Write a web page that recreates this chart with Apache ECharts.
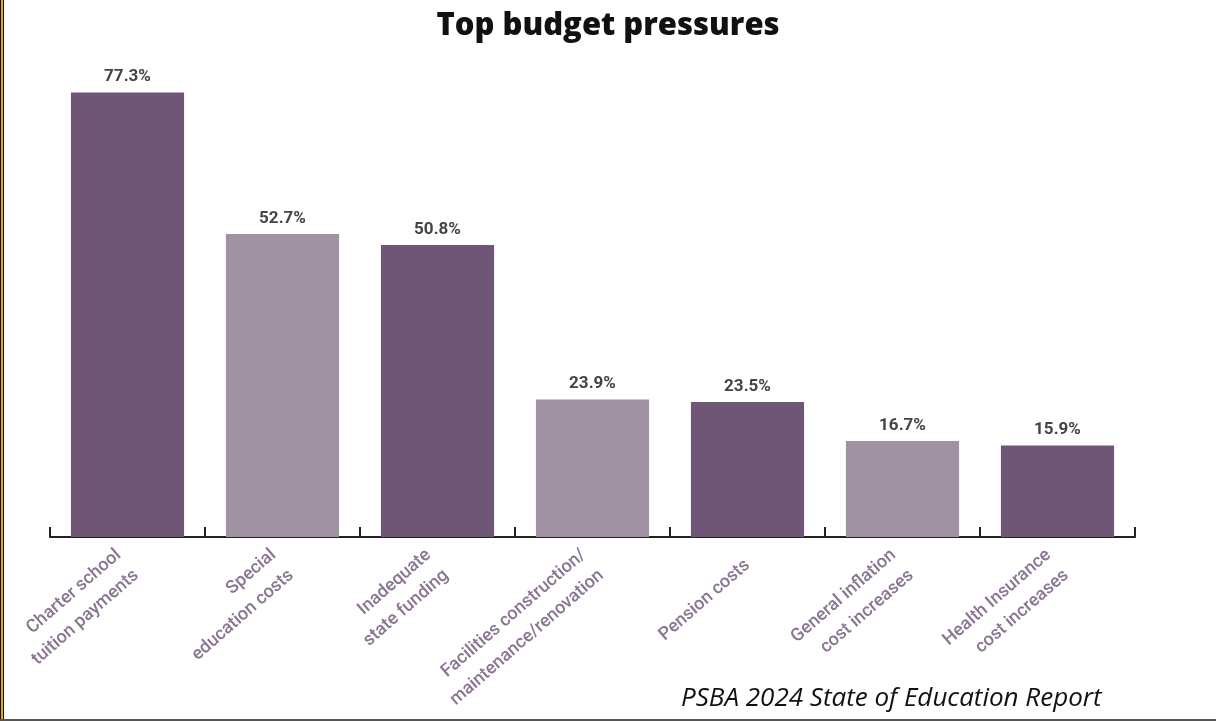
<!DOCTYPE html>
<html>
<head>
<meta charset="utf-8">
<script src="https://cdn.jsdelivr.net/npm/echarts@6/dist/echarts.min.js"></script>
<style>
  html, body { margin: 0; padding: 0; background: #fff; }
  #chart { width: 1216px; height: 721px; }
</style>
</head>
<body>
<div id="chart"></div>
<script>
// categories and values
var categories = [
  'Charter school\ntuition payments',
  'Special\neducation costs',
  'Inadequate\nstate funding',
  'Facilities construction/\nmaintenance/renovation',
  'Pension costs',
  'General inflation\ncost increases',
  'Health Insurance\ncost increases'
];
var values = [77.3, 52.7, 50.8, 23.9, 23.5, 16.7, 15.9];
var barColors = ['#705676', '#a091a3', '#705676', '#a091a3', '#705676', '#a091a3', '#705676'];

var chart = echarts.init(document.getElementById('chart'));

chart.setOption({
  animation: false,
  title: [
    {
      text: 'Top budget pressures',
      left: 'center',
      top: 6,
      textStyle: { fontFamily: 'Open Sans', fontWeight: 800, fontSize: 31, color: '#111' }
    },
    {
      text: 'PSBA 2024 State of Education Report',
      left: 676,
      top: 681,
      textStyle: { fontFamily: 'Open Sans', fontStyle: 'italic', fontWeight: 'normal', fontSize: 26, color: '#111' }
    }
  ],
  grid: {
    left: 50,
    right: 81,
    top: 77,
    bottom: 184
  },
  xAxis: {
    type: 'category',
    data: categories,
    axisLine: { lineStyle: { color: '#222', width: 2 } },
    axisTick: { show: true, inside: true, length: 10, lineStyle: { color: '#222', width: 2 } },
    axisLabel: {
      interval: 0,
      rotate: 41,
      margin: 26,
      align: 'right',
      fontFamily: 'Roboto',
      fontWeight: 500,
      fontSize: 18,
      lineHeight: 27,
      color: '#8a7491'
    }
  },
  yAxis: {
    type: 'value',
    min: 0,
    max: 80,
    show: false
  },
  series: [
    {
      type: 'bar',
      barCategoryGap: '27%',
      data: values.map(function (v, i) {
        return { value: v, itemStyle: { color: barColors[i] } };
      }),
      label: {
        show: true,
        position: 'top',
        distance: 7,
        formatter: function (p) { return p.value.toFixed(1) + '%'; },
        fontFamily: 'Roboto',
        fontWeight: 'bold',
        fontSize: 17,
        color: '#444'
      }
    }
  ],
  graphic: [
    { type: 'rect', shape: { x: 0, y: 0, width: 4, height: 721 }, style: { fill: '#111' } },
    { type: 'rect', shape: { x: 1, y: 0, width: 2, height: 721 }, style: { fill: '#e8a900' } },
    { type: 'rect', shape: { x: 0, y: 719, width: 1216, height: 2 }, style: { fill: '#555' } }
  ]
});
</script>
</body>
</html>
